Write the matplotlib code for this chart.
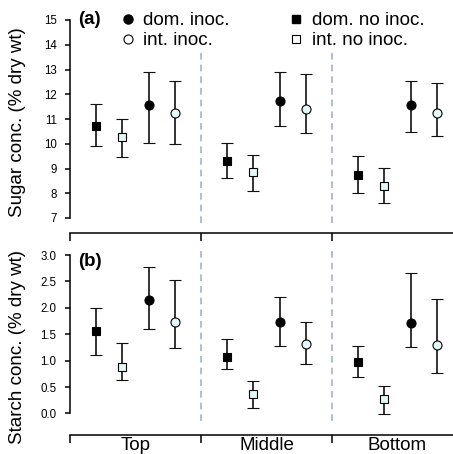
import numpy as np
import matplotlib.pyplot as plt
from matplotlib.lines import Line2D

plt.rcParams['font.family'] = ['Liberation Sans', 'DejaVu Sans']

# categories
groups = ['Top', 'Middle', 'Bottom']

# sugar conc. (% dry wt): mean, upper and lower ends of the error bars
sugar_dom_no = [10.72, 9.29, 8.74]
sugar_dom_no_hi = [11.60, 10.02, 9.52]
sugar_dom_no_lo = [9.92, 8.60, 8.00]
sugar_int_no = [10.28, 8.85, 8.30]
sugar_int_no_hi = [11.00, 9.55, 9.03]
sugar_int_no_lo = [9.48, 8.10, 7.62]
sugar_dom_in = [11.58, 11.74, 11.55]
sugar_dom_in_hi = [12.90, 12.89, 12.55]
sugar_dom_in_lo = [10.04, 10.73, 10.46]
sugar_int_in = [11.24, 11.42, 11.23]
sugar_int_in_hi = [12.54, 12.82, 12.47]
sugar_int_in_lo = [9.98, 10.42, 10.33]

# starch conc. (% dry wt)
starch_dom_no = [1.56, 1.07, 0.97]
starch_dom_no_hi = [2.00, 1.40, 1.27]
starch_dom_no_lo = [1.10, 0.84, 0.68]
starch_int_no = [0.875, 0.37, 0.27]
starch_int_no_hi = [1.34, 0.61, 0.52]
starch_int_no_lo = [0.63, 0.11, -0.01]
starch_dom_in = [2.15, 1.73, 1.71]
starch_dom_in_hi = [2.77, 2.20, 2.65]
starch_dom_in_lo = [1.59, 1.28, 1.26]
starch_int_in = [1.73, 1.32, 1.30]
starch_int_in_hi = [2.53, 1.74, 2.17]
starch_int_in_lo = [1.24, 0.93, 0.76]

W, H = 453, 454
fig = plt.figure(figsize=(W / 100, H / 100), dpi=100)


def px_axes(left, top, right, bottom):
    return fig.add_axes([left / W, 1 - bottom / H, (right - left) / W, (bottom - top) / H])


ax_a = px_axes(70, 8, 453, 233)
ax_b = px_axes(70, 241, 453, 435)

light = '#e4f8f8'
series_style = [  # offset in group, marker, facecolor, size
    (0.2, 's', 'black', 6.0),
    (0.4, 's', light, 6.0),
    (0.6, 'o', 'black', 6.5),
    (0.8, 'o', light, 6.5),
]

x = np.arange(len(groups))


def draw(ax, data):
    for (off, mk, fc, ms), (m, hi, lo) in zip(series_style, data):
        m, hi, lo = np.array(m), np.array(hi), np.array(lo)
        ax.errorbar(x + off, m, yerr=[m - lo, hi - m], fmt=mk, mfc=fc, mec='black',
                    mew=0.8, ms=ms, ecolor='#111111', elinewidth=1.2, capsize=4.3, capthick=1.2,
                    zorder=3)


draw(ax_a, [(sugar_dom_no, sugar_dom_no_hi, sugar_dom_no_lo),
            (sugar_int_no, sugar_int_no_hi, sugar_int_no_lo),
            (sugar_dom_in, sugar_dom_in_hi, sugar_dom_in_lo),
            (sugar_int_in, sugar_int_in_hi, sugar_int_in_lo)])
draw(ax_b, [(starch_dom_no, starch_dom_no_hi, starch_dom_no_lo),
            (starch_int_no, starch_int_no_hi, starch_int_no_lo),
            (starch_dom_in, starch_dom_in_hi, starch_dom_in_lo),
            (starch_int_in, starch_int_in_hi, starch_int_in_lo)])

xmax = (W - 70) / 131
# ylims follow the pixel layout of the original
ax_a.set_ylim(15 - (233 - 20) / 24.75, 15 - (8 - 20) / 24.75)
ax_b.set_ylim(3 - (435 - 255) / 52.8, 3 - (241 - 255) / 52.8)

ax_a.vlines([1, 2], 6.8, 13.8, colors='#a3b3cc', linestyles=(0, (4, 3)), lw=1.2, zorder=1)
ax_b.vlines([1, 2], -0.14, 3.09, colors='#a3b3cc', linestyles=(0, (4, 3)), lw=1.2, zorder=1)

for ax in (ax_a, ax_b):
    ax.set_xlim(0, xmax)
    ax.spines['top'].set_visible(False)
    ax.spines['right'].set_visible(False)
    ax.spines['left'].set_linewidth(1.1)
    ax.spines['bottom'].set_linewidth(1.1)
    ax.set_xticks([0, 1, 2])
    ax.set_xticklabels([])
    ax.tick_params(axis='x', which='major', direction='out', length=6, width=1.1)
    ax.tick_params(axis='y', direction='out', length=3.6, width=1.1, labelsize=8.3, pad=6)

ax_a.spines['left'].set_bounds(7, 15)
ax_a.set_yticks(np.arange(7, 16, 1))
ax_b.spines['left'].set_bounds(0, 3)
ax_b.set_yticks(np.arange(0, 3.01, 0.5))
ax_b.set_yticklabels(['%.1f' % v for v in np.arange(0, 3.01, 0.5)])

ax_b.set_xticks(x + 0.5, minor=True)
ax_b.set_xticklabels(groups, minor=True, fontsize=13.5)
ax_b.tick_params(axis='x', which='minor', length=0, pad=1.5)

fig.text(18 / W, 1 - 122 / H, 'Sugar conc. (% dry wt)', rotation=90, ha='center', va='center',
         fontsize=13.5)
fig.text(18 / W, 1 - 347 / H, 'Starch conc. (% dry wt)', rotation=90, ha='center', va='center',
         fontsize=13.5)

ax_a.text(0.06, 15, '(a)', fontsize=13.5, fontweight='bold', ha='left', va='center')
ax_b.text(0.06, 2.87, '(b)', fontsize=13.5, fontweight='bold', ha='left', va='center')

handles = [
    Line2D([], [], ls='none', marker='o', mfc='black', mec='black', ms=6.5),
    Line2D([], [], ls='none', marker='o', mfc='white', mec='black', mew=0.8, ms=6.5),
    Line2D([], [], ls='none', marker='s', mfc='black', mec='black', ms=6),
    Line2D([], [], ls='none', marker='s', mfc='white', mec='black', mew=0.8, ms=6),
]
labels = ['dom. inoc.', 'int. inoc.', 'dom. no inoc.', 'int. no inoc.']
fig.legend(handles, labels, ncol=2, loc='upper left', bbox_to_anchor=(120 / W, 1 - 12 / H),
           frameon=False, fontsize=13.5, handlelength=0.8, handletextpad=0.45,
           columnspacing=3.1, labelspacing=0.16, borderpad=0, borderaxespad=0)

fig.savefig('out.png', dpi=100)
